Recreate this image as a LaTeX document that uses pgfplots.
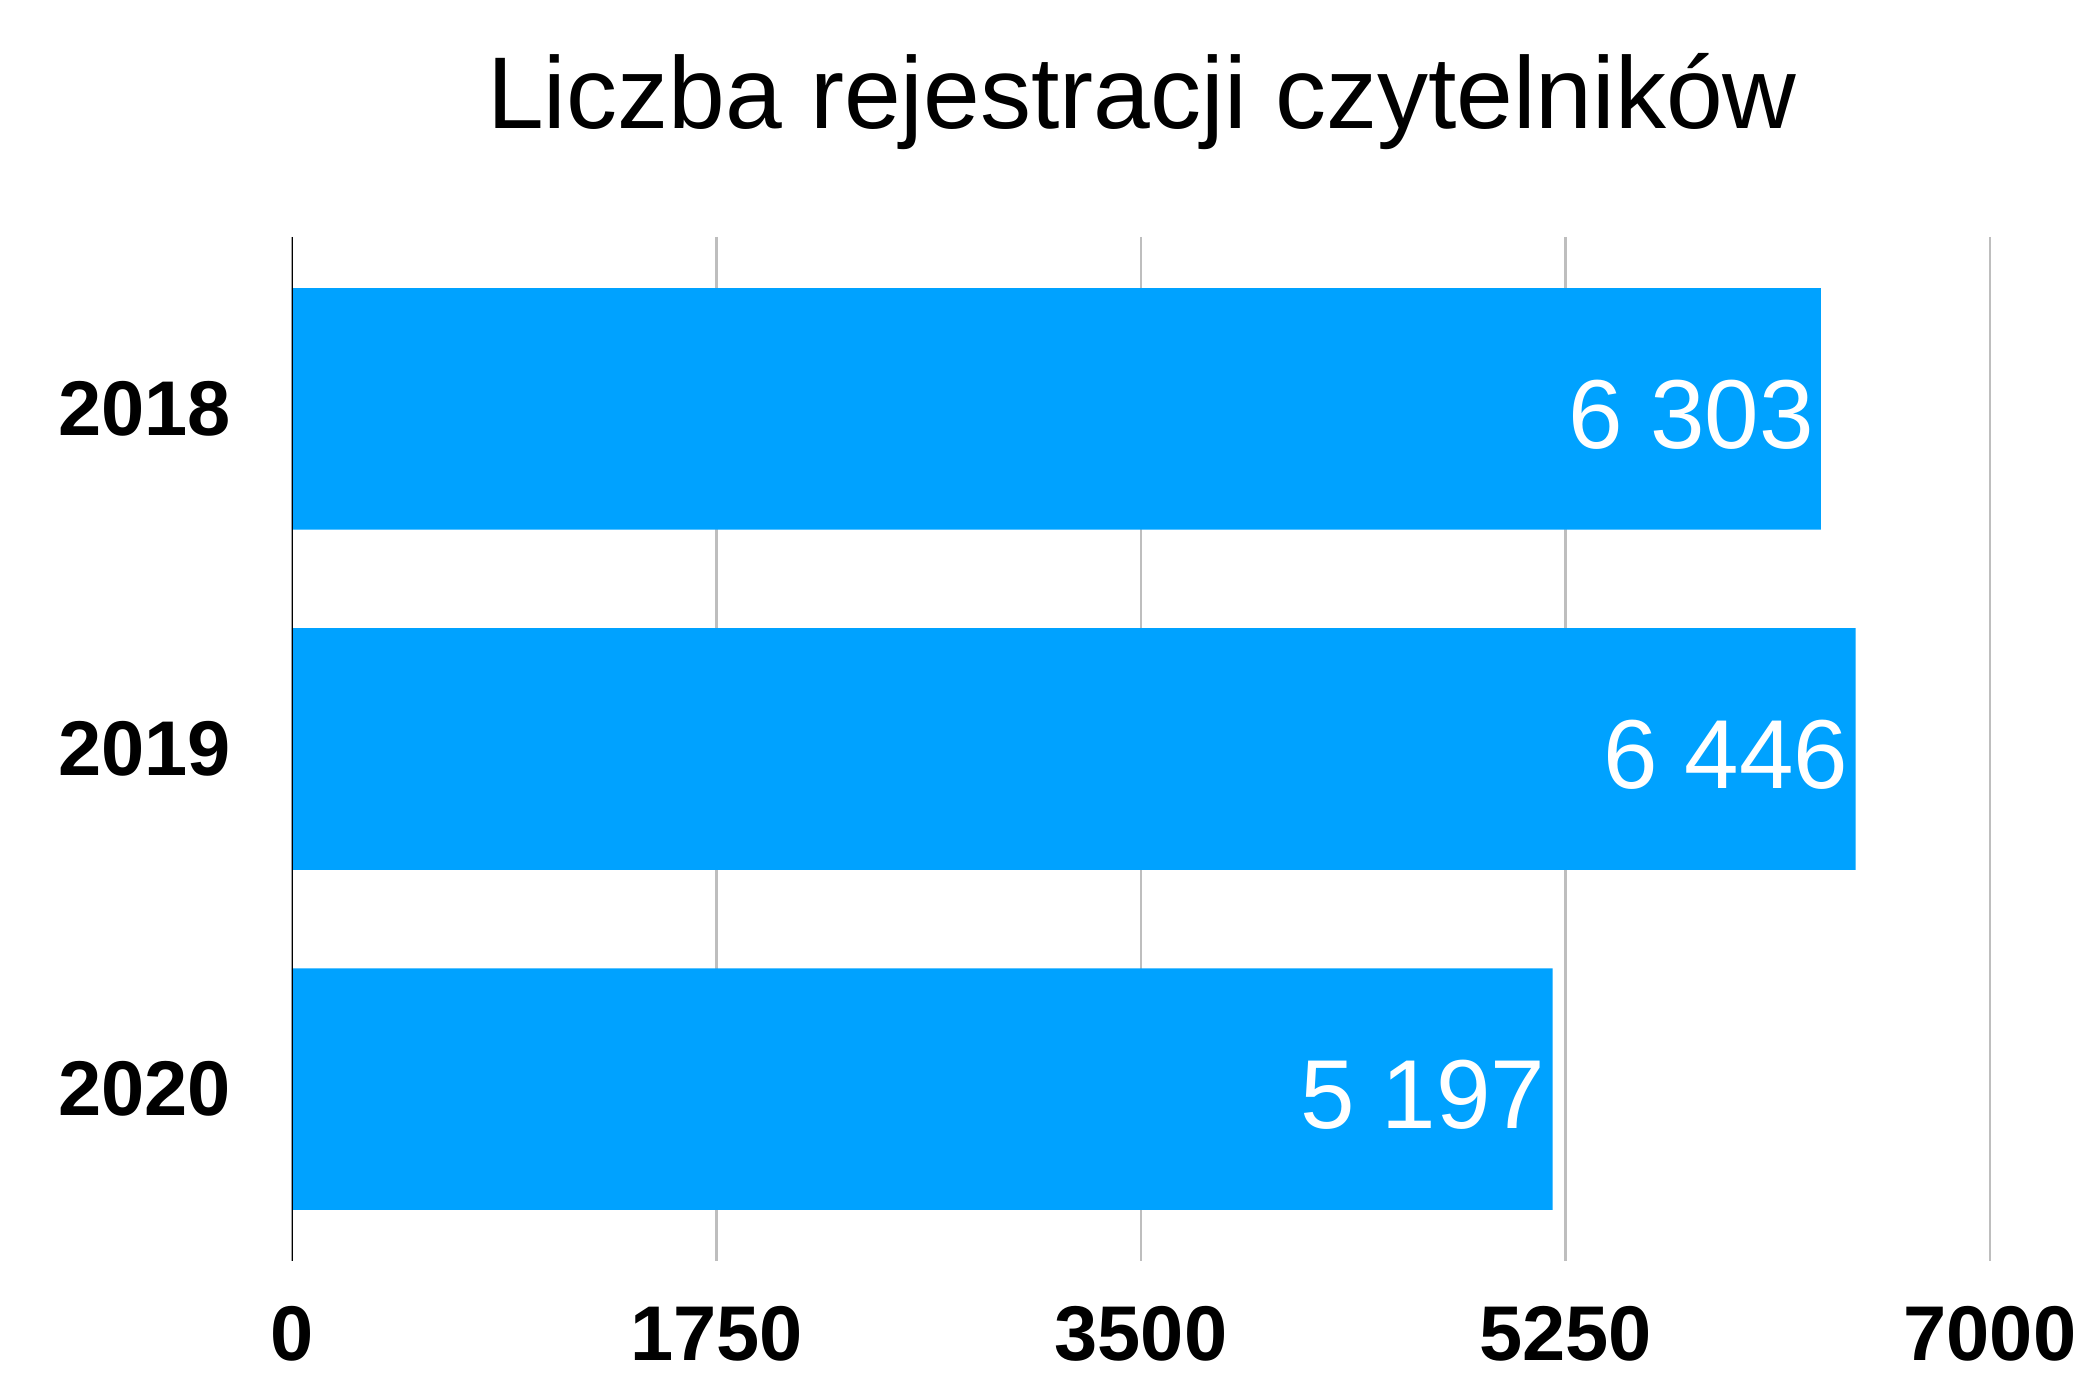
\documentclass[border=0pt]{standalone}
\usepackage{fontspec}
\setmainfont{Liberation Sans}
\usepackage{pgfplots}
\pgfplotsset{compat=1.18}
\definecolor{barblue}{RGB}{0,162,255}
\definecolor{gridgray}{RGB}{190,190,190}
\begin{document}
\begin{tikzpicture}
\path[use as bounding box] (-73pt,-29.25pt) rectangle (446.75pt,315.25pt);
\begin{axis}[
  at={(0,0)}, anchor=south west,
  scale only axis,
  width=424.5pt, height=256pt,
  xbar, bar width=0.71,
  xmin=0, xmax=7000,
  ymin=-0.505, ymax=2.505,
  y dir=reverse,
  xtick={0,1750,3500,5250,7000},
  xticklabels={0,1750,3500,5250,7000},
  ytick={0,1,2},
  yticklabels={2018,2019,2020},
  major tick length=0pt,
  axis line style={draw=none},
  xmajorgrids,
  grid style={gridgray, line width=0.6pt},
  xticklabel style={font=\bfseries\fontsize{19.4}{23}\selectfont, anchor=center, inner sep=0pt, yshift=-18.3pt},
  yticklabel style={font=\bfseries\fontsize{19.4}{23}\selectfont, anchor=center, inner sep=0pt, xshift=-36.9pt},
  nodes near coords={\pgfmathprintnumber[assume math mode=true,1000 sep={\ }]{\pgfplotspointmeta}},
  every node near coord/.append style={anchor=east, inner sep=0pt, xshift=-1.6pt, yshift=-1.4pt, text=white, font=\fontsize{24.5}{30}\selectfont},
]
\addplot[fill=barblue, draw=none] coordinates {(6303,0) (6446,1) (5197,2)};
\draw[black, line width=0.5pt] (axis cs:0,-0.505) -- (axis cs:0,2.505);
\end{axis}
\node[anchor=base, inner sep=0pt, font=\fontsize{25.5}{31}\selectfont] at (212.5pt,283.1pt) {Liczba rejestracji czytelników};
\end{tikzpicture}
\end{document}
